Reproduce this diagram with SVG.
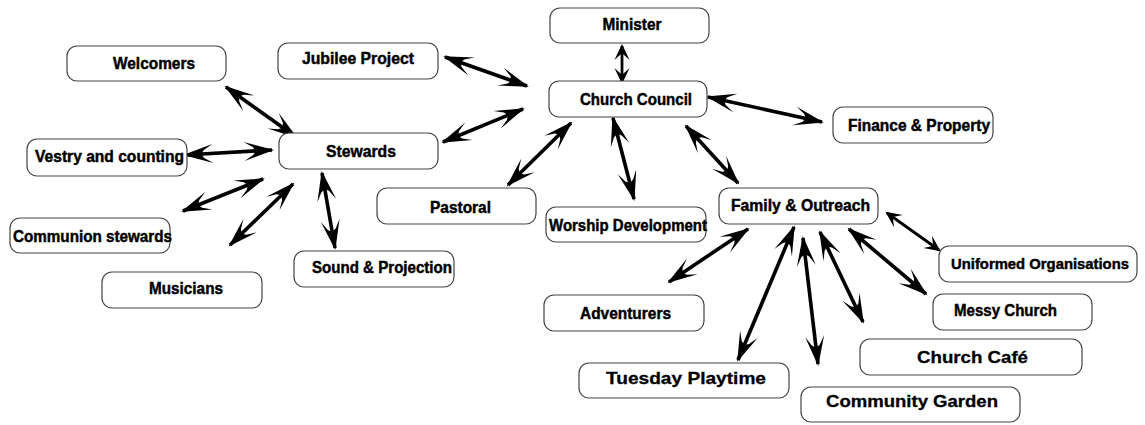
<svg xmlns="http://www.w3.org/2000/svg" width="1145" height="425" viewBox="0 0 1145 425">
<style>
.box{fill:#fff;stroke:#444;stroke-width:1.2}
.t{font-family:"Liberation Sans",Arial,sans-serif;font-weight:bold;font-size:16.5px;fill:#000;stroke:#000;stroke-width:0.45;text-anchor:middle}
.w{font-size:17px;stroke-width:0.3}
.c{stroke:#000;stroke-width:3.6;fill:none;marker-start:url(#ah);marker-end:url(#ah)}
.s{stroke-width:2.8;marker-start:url(#as);marker-end:url(#as)}
</style>
<defs>
<marker id="ah" viewBox="-31 -11 34 22" refX="0" refY="0" markerWidth="34" markerHeight="22" orient="auto-start-reverse" markerUnits="userSpaceOnUse">
<path d="M2,0 L-28,-9.5 L-19,-4 L-17,-1 L-17,1 L-19,4 L-28,9.5 Z" fill="#000"/>
</marker>
<marker id="as" viewBox="-17 -9 20 18" refX="0" refY="0" markerWidth="20" markerHeight="18" orient="auto-start-reverse" markerUnits="userSpaceOnUse">
<path d="M2,0 L-14,-7.5 L-8,-1 L-8,1 L-14,7.5 Z" fill="#000"/>
</marker>
</defs>
<g id="connectors">
<path class="c s" d="M622,46 L622,82"/>
<path class="c" d="M445,57 L527,86"/>
<path class="c" d="M443,142 L523,109"/>
<path class="c" d="M508,185 L571,123"/>
<path class="c" d="M613,118 L634,199"/>
<path class="c" d="M686,126 L738,183"/>
<path class="c" d="M708,97 L822,122"/>
<path class="c" d="M226,87 L296,137"/>
<path class="c" d="M185,155 L272,150"/>
<path class="c" d="M183,211 L263,179"/>
<path class="c" d="M230,245 L293,184"/>
<path class="c" d="M322,173 L335,248"/>
<path class="c" d="M748,229 L669,282"/>
<path class="c" d="M794,227 L738,360"/>
<path class="c" d="M803,238 L818,364"/>
<path class="c" d="M820,232 L863,322"/>
<path class="c" d="M849,229 L926,294"/>
<path class="c s" d="M887,213 L939,250"/>
</g>
<g id="minister"><rect class="box" x="550" y="8" width="159" height="35" rx="10"/><text class="t" x="632" y="30" textLength="59" lengthAdjust="spacingAndGlyphs">Minister</text></g>
<g id="church-council"><rect class="box" x="549" y="81" width="158" height="36" rx="10"/><text class="t" x="636" y="105" textLength="112" lengthAdjust="spacingAndGlyphs">Church Council</text></g>
<g id="jubilee-project"><rect class="box" x="278" y="43" width="160" height="36" rx="10"/><text class="t" x="358" y="64" textLength="112" lengthAdjust="spacingAndGlyphs">Jubilee Project</text></g>
<g id="welcomers"><rect class="box" x="67" y="46" width="159" height="35" rx="10"/><text class="t" x="154" y="69" textLength="82" lengthAdjust="spacingAndGlyphs">Welcomers</text></g>
<g id="stewards"><rect class="box" x="279" y="133" width="159" height="36" rx="10"/><text class="t" x="361" y="157" textLength="70" lengthAdjust="spacingAndGlyphs">Stewards</text></g>
<g id="vestry"><rect class="box" x="27" y="139" width="160" height="37" rx="10"/><text class="t" x="109.5" y="162" textLength="149" lengthAdjust="spacingAndGlyphs">Vestry and counting</text></g>
<g id="communion-stewards"><rect class="box" x="10" y="218" width="160" height="35" rx="10"/><text class="t" x="92.5" y="242" textLength="159" lengthAdjust="spacingAndGlyphs">Communion stewards</text></g>
<g id="musicians"><rect class="box" x="102" y="272" width="160" height="36" rx="10"/><text class="t" x="186" y="294" textLength="74" lengthAdjust="spacingAndGlyphs">Musicians</text></g>
<g id="sound-projection"><rect class="box" x="294" y="251" width="160" height="36" rx="10"/><text class="t" x="382" y="273" textLength="140" lengthAdjust="spacingAndGlyphs">Sound &amp; Projection</text></g>
<g id="pastoral"><rect class="box" x="377" y="188" width="159" height="36" rx="10"/><text class="t" x="460.5" y="213" textLength="61" lengthAdjust="spacingAndGlyphs">Pastoral</text></g>
<g id="worship-development"><rect class="box" x="546" y="207" width="160" height="35" rx="10"/><text class="t" x="628" y="231" textLength="158" lengthAdjust="spacingAndGlyphs">Worship Development</text></g>
<g id="family-outreach"><rect class="box" x="719" y="188" width="159" height="36" rx="10"/><text class="t" x="800.5" y="211" textLength="139" lengthAdjust="spacingAndGlyphs">Family &amp; Outreach</text></g>
<g id="finance-property"><rect class="box" x="833" y="107" width="160" height="36" rx="10"/><text class="t" x="919" y="131" textLength="142" lengthAdjust="spacingAndGlyphs">Finance &amp; Property</text></g>
<g id="uniformed-organisations"><rect class="box" x="939" y="246" width="198" height="36" rx="10"/><text class="t" x="1040" y="269" style="font-size:15px" textLength="178" lengthAdjust="spacingAndGlyphs">Uniformed Organisations</text></g>
<g id="messy-church"><rect class="box" x="933" y="294" width="159" height="36" rx="10"/><text class="t" x="1005.5" y="316" textLength="103" lengthAdjust="spacingAndGlyphs">Messy Church</text></g>
<g id="adventurers"><rect class="box" x="544" y="295" width="160" height="36" rx="10"/><text class="t" x="625.5" y="319" textLength="91" lengthAdjust="spacingAndGlyphs">Adventurers</text></g>
<g id="tuesday-playtime"><rect class="box" x="579" y="363" width="210" height="35" rx="10"/><text class="t w" x="686" y="384" textLength="160" lengthAdjust="spacingAndGlyphs">Tuesday Playtime</text></g>
<g id="church-cafe"><rect class="box" x="860" y="339" width="222" height="36" rx="10"/><text class="t w" x="972.5" y="363" textLength="111" lengthAdjust="spacingAndGlyphs">Church Café</text></g>
<g id="community-garden"><rect class="box" x="801" y="387" width="219" height="35" rx="10"/><text class="t w" x="912" y="407" textLength="172" lengthAdjust="spacingAndGlyphs">Community Garden</text></g>
</svg>
